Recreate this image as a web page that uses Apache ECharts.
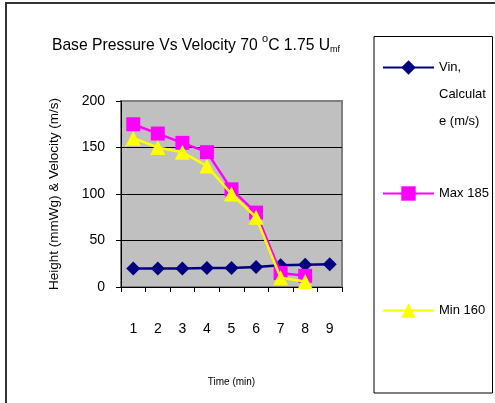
<!DOCTYPE html>
<html>
<head>
<meta charset="utf-8">
<script src="https://cdn.jsdelivr.net/npm/echarts@6/dist/echarts.min.js"></script>
<style>
  html, body { margin: 0; padding: 0; background: #fff; }
  #chart { width: 495px; height: 403px; }
</style>
</head>
<body>
<div id="chart"></div>
<script>
// data
var times = ['1', '2', '3', '4', '5', '6', '7', '8', '9'];
var vinName = 'Vin, Calculate (m/s)';
var maxName = 'Max 185';
var minName = 'Min 160';
var vinValues = [20, 20, 20, 20.5, 20.5, 21.5, 23.5, 24, 24.5];
var maxValues = [175, 165, 155, 145, 105, 80, 15, 12];
var minValues = [160, 150, 145, 130, 100, 75, 10, 6];
var yTicks = [0, 50, 100, 150, 200];

var font = 'Liberation Sans, Arial, sans-serif';
var chart = echarts.init(document.getElementById('chart'));

function legendFor(name, top) {
  return {
    data: [name],
    left: 382,
    top: top,
    padding: 0,
    orient: 'vertical',
    itemWidth: 51,
    itemHeight: 18,
    itemGap: 0,
    selectedMode: false,
    textStyle: { fontFamily: font, fontSize: 13, color: '#000', lineHeight: 27 },
    formatter: function (n) {
      // Excel wraps the long name in the narrow box, first line level with the marker
      if (n === vinName) return ' \n \nVin,\nCalculat\ne (m/s)';
      return n;
    }
  };
}

chart.setOption({
  animation: false,
  backgroundColor: '#fff',
  title: {
    text: 'Base Pressure Vs Velocity 70 {sup|o}C 1.75 U{sub|mf}',
    left: 191,
    textAlign: 'center',
    top: 28,
    textStyle: {
      fontFamily: font,
      fontSize: 15.7,
      fontWeight: 'normal',
      color: '#000',
      rich: {
        sup: { fontFamily: font, fontSize: 11, padding: [0, 0, 14, 0], color: '#000' },
        sub: { fontFamily: font, fontSize: 9, padding: [9, 0, 0, 0], color: '#000' }
      }
    }
  },
  graphic: [
    // outer chart frame
    { type: 'rect', shape: { x: 6, y: 3, width: 520, height: 430 }, style: { fill: 'none', stroke: '#333', lineWidth: 2 }, silent: true },
    // legend frame
    { type: 'rect', shape: { x: 374, y: 36.5, width: 118.5, height: 356.5 }, style: { fill: 'none', stroke: '#000', lineWidth: 1 }, silent: true }
  ],
  legend: [
    legendFor(vinName, 0),
    legendFor(maxName, 180),
    legendFor(minName, 297)
  ],
  grid: {
    left: 121,
    top: 101,
    right: 153,
    bottom: 116,
    show: true,
    backgroundColor: '#C0C0C0',
    borderColor: '#808080',
    borderWidth: 2
  },
  xAxis: {
    type: 'category',
    data: times,
    boundaryGap: true,
    name: 'Time (min)',
    nameLocation: 'middle',
    nameGap: 90,
    nameTextStyle: { fontFamily: font, fontSize: 10, color: '#000' },
    axisLine: { lineStyle: { color: '#000', width: 1 } },
    axisTick: { show: true, alignWithLabel: false, length: 5, lineStyle: { color: '#000' } },
    axisLabel: { fontFamily: font, fontSize: 14, color: '#000', margin: 35 },
    splitLine: { show: false }
  },
  yAxis: {
    type: 'value',
    min: yTicks[0],
    max: yTicks[yTicks.length - 1],
    interval: yTicks[1] - yTicks[0],
    name: 'Height (mmWg) & Velocity (m/s)',
    nameLocation: 'middle',
    nameRotate: 90,
    nameGap: 60,
    nameTextStyle: { fontFamily: font, fontSize: 13.5, color: '#000' },
    axisLine: { show: true, lineStyle: { color: '#000', width: 1 } },
    axisTick: { show: true, length: 5, lineStyle: { color: '#000' } },
    axisLabel: { fontFamily: font, fontSize: 14, color: '#000', margin: 16 },
    splitLine: { show: true, showMinLine: false, showMaxLine: false, lineStyle: { color: '#000', width: 1 } }
  },
  series: [
    {
      name: vinName,
      type: 'line',
      data: vinValues,
      symbol: 'diamond',
      symbolSize: 14,
      color: '#000080',
      lineStyle: { color: '#000080', width: 2.5 },
      itemStyle: { color: '#000080' },
      z: 3
    },
    {
      name: maxName,
      type: 'line',
      data: maxValues,
      symbol: 'rect',
      symbolSize: 14,
      color: '#FF00FF',
      lineStyle: { color: '#FF00FF', width: 2.5 },
      itemStyle: { color: '#FF00FF' },
      z: 4
    },
    {
      name: minName,
      type: 'line',
      data: minValues,
      symbol: 'triangle',
      symbolSize: 15,
      color: '#FFFF00',
      lineStyle: { color: '#FFFF00', width: 2.5 },
      itemStyle: { color: '#FFFF00' },
      z: 5
    }
  ]
});
</script>
</body>
</html>
